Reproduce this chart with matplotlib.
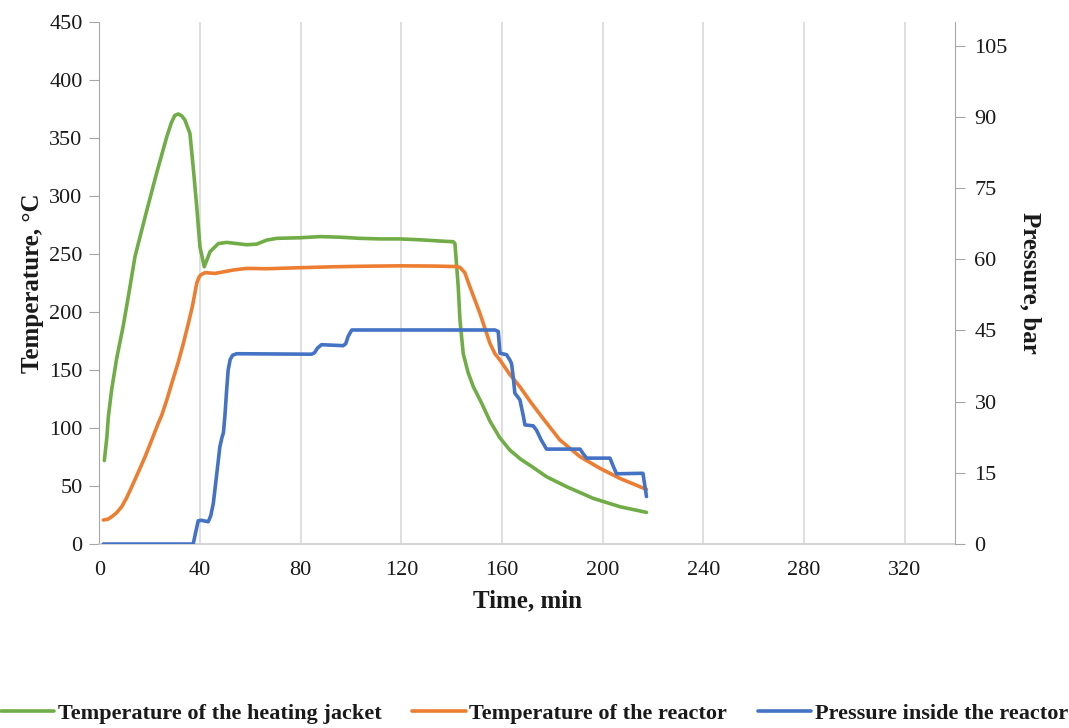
import matplotlib.pyplot as plt

plt.rcParams['font.family'] = ['Liberation Serif', 'DejaVu Serif']

# Heating jacket temperature, degC
jacket_time = [2, 3, 3.6, 4.9, 6.9, 9.5, 11.5, 14.2, 18.2, 22.8, 26.8, 28.6, 30, 31.4, 32.8,
               34, 36, 37.3, 38.7, 40, 41.7, 44, 47.3, 50.6, 54.6, 58.5, 62.5, 66.5, 70.5,
               79.7, 87.7, 95.6, 103.6, 111.5, 119.4, 127, 135.3, 140.6, 141.3, 142.6, 143.3,
               144.6, 146.5, 148.6, 152, 155.2, 159, 163.1, 167.5, 172.4, 177.7, 185.7,
               196.2, 206.8, 217.4]
jacket_temp = [72, 92, 110, 133, 160, 188, 213, 248, 282, 320, 351, 363, 369.5, 370.7, 369,
               365.5, 354, 325, 291, 256, 239, 252, 259, 260, 259, 258, 258.5, 262, 263.5,
               264, 265, 264.5, 263.5, 263, 263, 262.3, 261.2, 260.6, 259, 222, 193, 164,
               148, 135.6, 121, 106, 92, 81, 73, 66, 58, 49.4, 39.4, 32.2, 27.3]

# Reactor temperature, degC
reactor_time = [1.6, 3.5, 4.9, 6.9, 8.9, 10.9, 12.9, 15.5, 18.2, 20.8, 23.4, 24.8, 26.8, 29,
                31.4, 33.4, 35.4, 37, 38.7, 39.5, 40.3, 42, 46, 49, 53.2, 58.5, 66.5, 79.7,
                93, 106.2, 119.4, 132.7, 141.5, 143.3, 145.2, 147.2, 149.2, 151.2, 153.2,
                155.2, 157.2, 159.2, 163, 167.1, 171.5, 176.4, 183, 191, 198.9, 206.8, 217.4]
reactor_temp = [20.7, 21.5, 23.5, 27, 32.2, 40, 49.4, 62, 75.3, 89.5, 104, 111, 124.1, 140,
                157, 173, 190.3, 205, 224.7, 229.5, 232, 233.9, 233.3, 234.5, 236.2, 237.6,
                237.3, 238.2, 239, 239.5, 239.8, 239.6, 239.2, 238.5, 234, 222, 210.5, 199,
                186, 173, 164, 158.6, 146.5, 135.6, 122, 108, 89.7, 75.3, 65.3, 56.6, 47.1]

# Pressure inside the reactor, bar
press_time = [1.6, 37.3, 38.3, 39.3, 40.5, 43.3, 44.3, 45.3, 46.5, 47.9, 48.8, 49.3, 49.9,
              50.6, 51.2, 52, 53, 54.6, 84.4, 85.5, 86.7, 88.3, 96.9, 97.9, 98.9, 100.3,
              157.2, 158.5, 159.2, 161.8, 163.1, 163.8, 164.5, 165.1, 167.1, 168.5, 169.1,
              172.4, 173.7, 175.5, 177.7, 191, 192.3, 193.6, 202.9, 204.2, 205.5, 214.8,
              216, 217.4]
press_bar = [0, 0, 2.5, 4.9, 5, 4.7, 6, 8.6, 14, 20.5, 22.6, 23.4, 27, 32.5, 36.7, 38.9,
             39.8, 40.1, 40, 40.3, 41.3, 42, 41.8, 42.2, 43.8, 45.1, 45.1, 44.8, 40.2, 39.9,
             38.8, 38, 35, 31.8, 30.4, 26.9, 25.1, 24.9, 24, 22, 20, 20, 19, 18.1, 18.1,
             16.4, 14.8, 14.9, 14.9, 10]

green = '#70AD47'
orange = '#ED7D31'
blue = '#4472C4'
axis_gray = '#a6a6a6'
text_col = '#1a1a1a'

fig = plt.figure(figsize=(10.69, 7.28), dpi=100)
ax = fig.add_axes([0.0929, 0.2527, 0.8005, 0.7171])
ax2 = ax.twinx()

style = dict(lw=2.6, solid_joinstyle='round', solid_capstyle='round')
l1, = ax.plot(jacket_time, jacket_temp, color=green,
              label='Temperature of the heating jacket', **style)
l2, = ax.plot(reactor_time, reactor_temp, color=orange,
              label='Temperature of the reactor', **style)
l3, = ax2.plot(press_time, press_bar, color=blue,
               label='Pressure inside the reactor', **style)

ax.set_xlim(0, 340)
ax.set_ylim(0, 450)
ax2.set_ylim(0, 110)
ax.set_xticks(range(0, 321, 40))
ax.set_yticks(range(0, 451, 50))
ax2.set_yticks(range(0, 106, 15))

ax.grid(axis='x', color='#d9d9d9', lw=1.2)
ax.set_axisbelow(True)

for a in (ax, ax2):
    a.spines['top'].set_visible(False)
ax.spines['right'].set_visible(False)
ax.spines['left'].set_color(axis_gray)
ax.spines['bottom'].set_color('#d0d0d0')
ax.spines['bottom'].set_linewidth(1.3)
ax2.spines['left'].set_visible(False)
ax2.spines['bottom'].set_visible(False)
ax2.spines['right'].set_color(axis_gray)

ax.tick_params(axis='x', length=0, pad=12, labelsize=16, labelcolor=text_col)
ax.tick_params(axis='y', length=7, color=axis_gray, pad=5, labelsize=16, labelcolor=text_col)
ax2.tick_params(axis='y', length=7, color=axis_gray, pad=7, labelsize=16, labelcolor=text_col)

ax.set_xlabel('Time, min', fontsize=18, fontweight='bold', color=text_col, labelpad=7)
ax.set_ylabel('Temperature, °C', fontsize=18, fontweight='bold', color=text_col, labelpad=4)
ax2.set_ylabel('Pressure, bar', fontsize=18, fontweight='bold', color=text_col,
               rotation=-90, labelpad=24)

fig.legend(handles=[l1, l2, l3], loc='lower center', bbox_to_anchor=(0.5, -0.022), ncol=3,
           frameon=False, prop={'size': 16, 'weight': 'bold'}, handlelength=2.4,
           handletextpad=0.15, columnspacing=1.4, labelcolor=text_col)

fig.savefig('out.png', dpi=100)
